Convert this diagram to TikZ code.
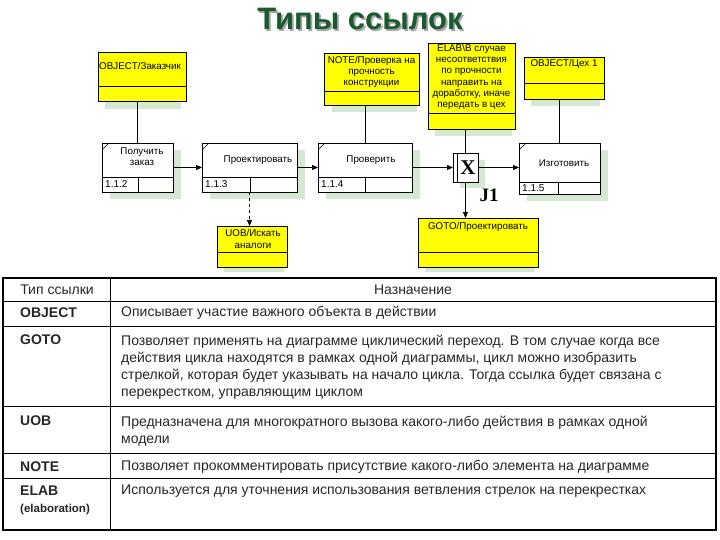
\documentclass[tikz,border=0pt]{standalone}
\usepackage{fontspec}
\setmainfont{Liberation Sans}
\newfontfamily\serifbf{Liberation Serif}
\usetikzlibrary{arrows.meta}
\definecolor{shd}{HTML}{D5E8D2}
\definecolor{ttl}{HTML}{1B5A2F}
\definecolor{yel}{HTML}{FFFF00}
\begin{document}
\begin{tikzpicture}[x=1pt,y=-1pt,
  box/.style={draw, line width=0.7pt, inner sep=0pt, outer sep=0pt, anchor=north west},
  refbox/.style={box, fill=yel},
  actbox/.style={box, fill=white},
  dtext/.style={font=\fontsize{9.8}{11.2}\selectfont, align=center, inner sep=0pt},
  ntext/.style={font=\fontsize{10}{11}\selectfont, anchor=west, inner sep=0pt},
  link/.style={line width=0.7pt},
  arrowlink/.style={link, -{Triangle[length=6pt,width=5pt]}},
  tline/.style={line width=0.8pt},
  ttext/.style={font=\fontsize{14}{17}\selectfont, inner sep=0pt, text=black!85},
  tlabel/.style={font=\fontsize{14}{17}\selectfont\bfseries, inner sep=0pt, anchor=west, text=black!85},
]
\useasboundingbox (0,0) rectangle (720,540);

% title
\node[font=\fontsize{31}{33}\selectfont\bfseries, text=ttl] (title) at (360,20)
  {\makebox[0pt][l]{\raisebox{-1.8pt}{\hspace{1.8pt}\color{black!35}Типы ссылок}}Типы ссылок};

% shadows
\fill[shd] (105,60) rectangle (181,109);
\fill[shd] (332,60) rectangle (417,112);
\fill[shd] (435,50) rectangle (512,136);
\fill[shd] (531,64) rectangle (600,106);
\fill[shd] (224,233) rectangle (284,272);
\fill[shd] (425,225) rectangle (535,272);
\fill[shd] (110,150) rectangle (181,199);
\fill[shd] (210,150) rectangle (305,199);
\fill[shd] (326,150) rectangle (420,199);
\fill[shd] (527,150) rectangle (608,201);
\fill[shd] (460,160) rectangle (485,188);

% referent boxes
\node[refbox, minimum width=88, minimum height=49] (obj1) at (98,52) {};
\draw[link] (98,86) -- (186,86);
\node[dtext, anchor=west] (obj1t) at (99,66) {OBJECT/Заказчик};

\node[refbox, minimum width=95, minimum height=52] (note) at (324,53) {};
\draw[link] (324,91) -- (419,91);
\node[dtext] (notet) at (371.5,72) {NOTE/Проверка на\\прочность\\конструкции};

\node[refbox, minimum width=87, minimum height=86] (elab) at (428,43) {};
\draw[link] (428,113) -- (515,113);
\node[dtext] (elabt) at (471.5,77) {ELAB\textbackslash В случае\\несоответствия\\по прочности\\направить на\\доработку, иначе\\передать в цех};

\node[refbox, minimum width=80, minimum height=42] (obj2) at (524,57) {};
\draw[link] (524,83) -- (604,83);
\node[dtext] (obj2t) at (564,64) {OBJECT/Цех 1};

\node[refbox, minimum width=70, minimum height=41] (uob) at (217,226) {};
\draw[link] (217,252) -- (287,252);
\node[dtext] (uobt) at (253,239) {UOB/Искать\\аналоги};

\node[refbox, minimum width=120, minimum height=49] (goto) at (418,218) {};
\draw[link] (418,252) -- (538,252);
\node[dtext] (gotot) at (478,227) {GOTO/Проектировать};

% activity boxes
\node[actbox, minimum width=71, minimum height=49] (A) at (102,143) {};
\draw[link] (102,177) -- (173,177) (138,177) -- (138,192);
\draw[line width=0.4pt] (103,149) -- (108,144);
\node[dtext] (At) at (142,157) {Получить\\заказ};
\node[ntext] (An) at (105,184.5) {1.1.2};

\node[actbox, minimum width=95, minimum height=49] (B) at (202,143) {};
\draw[link] (202,177) -- (297,177) (250,177) -- (250,192);
\draw[line width=0.4pt] (203,149) -- (208,144);
\node[dtext] (Bt) at (258,160) {Проектировать};
\node[ntext] (Bn) at (205,184.5) {1.1.3};

\node[actbox, minimum width=94, minimum height=49] (C) at (318,143) {};
\draw[link] (318,177) -- (412,177) (365,177) -- (365,192);
\draw[line width=0.4pt] (319,149) -- (324,144);
\node[dtext] (Ct) at (371,160) {Проверить};
\node[ntext] (Cn) at (321,184.5) {1.1.4};

\node[actbox, minimum width=81, minimum height=51] (D) at (519,143) {};
\draw[link] (519,182) -- (600,182) (558,182) -- (558,194);
\draw[line width=0.4pt] (520,149) -- (525,144);
\node[dtext] (Dt) at (564,163) {Изготовить};
\node[ntext] (Dn) at (522,188) {1.1.5};

% junction
\node[actbox, minimum width=25, minimum height=29] (J) at (453,153) {};
\draw[link] (457,153) -- (457,182);
\node[font=\serifbf\fontsize{21}{21}\selectfont\bfseries, inner sep=0pt] (Jx) at (468,167.5) {X};
\node[font=\serifbf\fontsize{19}{19}\selectfont\bfseries, inner sep=0pt] (Jl) at (489,195) {J1};

% connectors
\draw[link] (A.north |- obj1.south) -- (A.north);
\draw[link] (C.north |- note.south) -- (C.north);
\draw[link] (J.north |- elab.south) -- (J.north);
\draw[link] (D.north |- obj2.south) -- (D.north);
\draw[arrowlink] (A.east) -- (B.west);
\draw[arrowlink] (B.east) -- (C.west);
\draw[arrowlink] (C.east) -- (J.west);
\draw[arrowlink] (J.east) -- (D.west |- J.east);
\draw[arrowlink] (J.south) -- (J.south |- goto.north);
\draw[arrowlink, dashed] (B.south) -- (B.south |- uob.north);

% table
\draw[tline] (3,301) -- (716,301) (3,326) -- (716,326) (3,406) -- (716,406)
  (3,453) -- (716,453) (3,478) -- (716,478) (110,278) -- (110,530);
\draw[line width=1.6pt] (3,278) rectangle (716,530);

\node[ttext] (h1) at (57,289.5) {Тип ссылки};
\node[ttext] (h2) at (413,289.5) {Назначение};

\node[tlabel] (l1) at (20,313) {OBJECT};
\node[tlabel] (l2) at (20,340) {GOTO};
\node[tlabel] (l3) at (20,421) {UOB};
\node[tlabel] (l4) at (20,467) {NOTE};
\node[tlabel] (l5) at (20,491) {ELAB};
\node[tlabel, font=\fontsize{11.5}{13}\selectfont\bfseries] (l6) at (20,510) {(elaboration)};

\node[ttext, anchor=west] (d1) at (121,313) {Описывает участие важного объекта в действии};
\node[ttext, anchor=north west, align=left] (d2) at (121,334.5) {Позволяет применять на диаграмме циклический переход. В том случае когда все\\действия цикла находятся в рамках одной диаграммы, цикл можно изобразить\\стрелкой, которая будет указывать на начало цикла. Тогда ссылка будет связана с\\перекрестком, управляющим циклом};
\node[ttext, anchor=north west, align=left] (d3) at (121,415.5) {Предназначена для многократного вызова какого-либо действия в рамках одной\\модели};
\node[ttext, anchor=west] (d4) at (121,467) {Позволяет прокомментировать присутствие какого-либо элемента на диаграмме};
\node[ttext, anchor=west] (d5) at (121,491) {Используется для уточнения использования ветвления стрелок на перекрестках};
\end{tikzpicture}
\end{document}
